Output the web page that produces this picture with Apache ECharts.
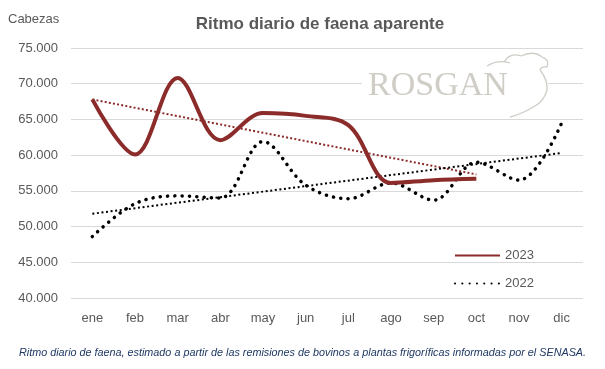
<!DOCTYPE html>
<html><head><meta charset="utf-8">
<script src="https://cdn.jsdelivr.net/npm/echarts@6/dist/echarts.min.js"></script>
<style>html,body{margin:0;padding:0;background:#fff}#c{width:605px;height:369px}</style>
</head><body><div id="c"></div>
<script>
var months = ['ene','feb','mar','abr','may','jun','jul','ago','sep','oct','nov','dic'];
var v2023 = [67800, 60100, 70800, 62100, 65900, 65500, 64200, 56100, 56500, 56700];
var v2022 = [48600, 53200, 54300, 54000, 61900, 55800, 53900, 56100, 53700, 59000, 56500, 64500];
var trend2023Ends = [67800, 57300]; // ene, oct
var trend2022Ends = [51800, 60300]; // ene, dic
var yTicks = [40000, 45000, 50000, 55000, 60000, 65000, 70000, 75000];

function endsToSeries(ends, lastIdx){
  var d = months.map(function(){return '-';});
  d[0] = ends[0]; d[lastIdx] = ends[1];
  return d;
}
var grayTxt = '#595959';
var red = '#8B2C2A';
var font = 'Liberation Sans';
var logoC = '#cfcdc6';
function qc(x1,y1,cx,cy,x2,y2){
  return {type:'bezierCurve', z:1, shape:{x1:x1,y1:y1,cpx1:cx,cpy1:cy,x2:x2,y2:y2},
    style:{stroke:logoC, fill:null, lineWidth:1.3}};
}
var chart = echarts.init(document.getElementById('c'), null, {renderer:'canvas'});
chart.setOption({
  animation:false,
  textStyle:{fontFamily:font},
  title:{text:'Ritmo diario de faena aparente', left:315, top:11, textAlign:'center',
    textStyle:{fontFamily:font, fontSize:17, fontWeight:'bold', color:grayTxt}},
  grid:{left:71, right:22, top:48, bottom:71, containLabel:false},
  legend:[{data:['2023'], left:449, top:244, itemWidth:45, itemHeight:14, itemGap:5,
      itemStyle:{opacity:0},
      textStyle:{fontFamily:font, fontSize:13, color:grayTxt}},
    {data:['2022'], left:449, top:272, itemWidth:45, itemHeight:14, itemGap:5,
      itemStyle:{opacity:0},
      textStyle:{fontFamily:font, fontSize:13, color:grayTxt}}],
  xAxis:{type:'category', data:months, boundaryGap:true,
    axisLine:{show:false}, axisTick:{show:false},
    axisLabel:{color:grayTxt, fontSize:13, fontFamily:font, margin:14}},
  yAxis:{type:'value', min:40000, max:75000, interval:5000,
    name:'Cabezas', nameLocation:'end', nameGap:0,
    nameTextStyle:{color:grayTxt, fontSize:13, fontFamily:font, align:'left', padding:[0,0,22,-63]},
    axisLine:{show:false}, axisTick:{show:false},
    splitLine:{lineStyle:{color:'#d9d9d9', width:1}},
    axisLabel:{color:grayTxt, fontSize:13, fontFamily:font, margin:13,
      formatter:function(v){return (v/1000).toFixed(3);}}},
  graphic:[
    {type:'rect', z:1, shape:{x:362, y:76, width:186, height:16}, style:{fill:'#fff'}},
    {type:'text', z:1, x:368, y:69, style:{text:'ROSGAN', font:'34px "Liberation Serif"', fill:logoC}},
    qc(487,66,498,59,510,63),
    qc(504,62,510,52,521,56),
    qc(521,56,534,50,542,57),
    qc(542,57,550,60,547,67),
    qc(547,67,541,66,540,70),
    qc(540,70,548,80,547,90),
    qc(547,90,544,101,535,106),
    qc(535,106,522,114,510,117),
    {type:'text', z:1, left:'center', top:347, style:{text:'Ritmo diario de faena, estimado a partir de las remisiones de bovinos a plantas frigoríficas informadas por el SENASA.',
      font:'italic 10.8px "Liberation Sans"', fill:'#1F3864'}}
  ],
  series:[
    {name:'2023', type:'line', data:v2023, smooth:0.35, symbol:'none', z:4,
      lineStyle:{color:red, width:4}, itemStyle:{color:red}},
    {name:'2022', type:'line', data:v2022, smooth:0.35, symbol:'none', z:3,
      lineStyle:{color:'#000', width:3.5, type:[0.1,7.2], cap:'round'}, itemStyle:{color:'#000'}},
    {name:'t2023', type:'line', data:endsToSeries(trend2023Ends, 9), connectNulls:true, symbol:'none', z:3,
      lineStyle:{color:red, width:2, type:[2,2.2]}},
    {name:'t2022', type:'line', data:endsToSeries(trend2022Ends, 11), connectNulls:true, symbol:'none', z:3,
      lineStyle:{color:'#000', width:2, type:[2,2.6]}}
  ]
});
</script></body></html>
